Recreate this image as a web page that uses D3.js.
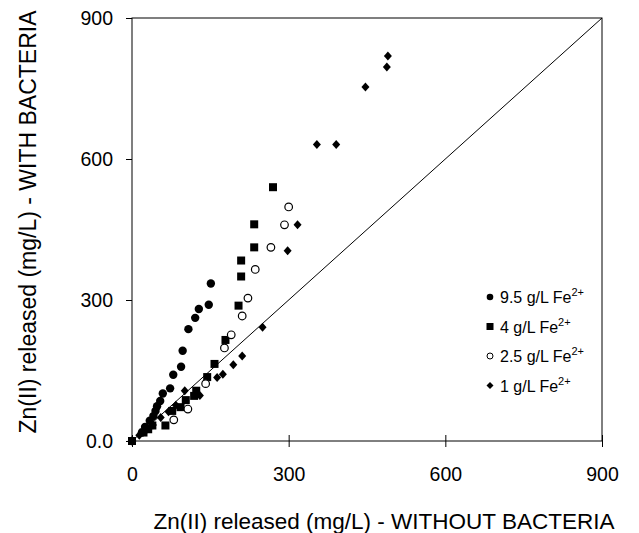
<!DOCTYPE html>
<html>
<head>
<meta charset="utf-8">
<script src="https://cdn.jsdelivr.net/npm/d3@7"></script>
<style>
  body { margin: 0; background: #fff; }
  text { font-family: "Liberation Sans", Arial, sans-serif; fill: #000; }
</style>
</head>
<body>
<div id="viz-container"></div>
<script>
// readings: [without bacteria, with bacteria] in mg/L
let fe95 = [[0,0],[19,18],[25,30],[34,43],[41,53],[45,64],[48,74],[54,85],[59,101],[73,112],
            [79,141],[94,158],[97,192],[108,238],[121,262],[128,281],[147,290],[151,335]];
let fe4 = [[0,0],[22,18],[31,25],[39,33],[64,33],[77,64],[93,72],[103,87],[119,96],[123,107],
           [144,136],[158,164],[179,215],[204,288],[209,350],[209,384],[234,412],[234,461],[270,540]];
let fe25 = [[80,45],[107,68],[141,122],[177,198],[190,226],[211,266],[222,304],[236,365],
            [266,412],[292,460],[300,498]];
let fe1 = [[0,0],[14,12],[26,22],[40,34],[55,50],[70,62],[84,76],[101,107],[130,97],[163,135],
           [174,142],[194,162],[211,181],[250,242],[298,405],[317,460],[354,631],[391,631],
           [447,753],[488,796],[490,819]];

let xTicks = [0, 300, 600, 900];
let yTicks = [0, 300, 600, 900];
let legendLabels = ["9.5 g/L Fe", "4 g/L Fe", "2.5 g/L Fe", "1 g/L Fe"];
let seriesShapes = ["dot", "square", "ring", "diamond"];

let plotLeft = 132, plotRight = 602, plotTop = 18, plotBottom = 441;

let viz = d3.select("#viz-container")
  .append("svg")
    .attr("width", 639)
    .attr("height", 533);

let x = d3.scaleLinear().domain([0, 900]).range([plotLeft, plotRight]);
let y = d3.scaleLinear().domain([0, 900]).range([plotBottom, plotTop]);

// frame
viz.append("rect")
  .attr("x", plotLeft).attr("y", plotTop)
  .attr("width", plotRight - plotLeft).attr("height", plotBottom - plotTop)
  .attr("fill", "none").attr("stroke", "#000").attr("stroke-width", 1);

// x axis, ticks crossing the line
let xAxis = viz.append("g").attr("transform", "translate(0," + plotBottom + ")")
  .call(d3.axisBottom(x).tickValues(xTicks).tickSize(6).tickFormat(d3.format("d")));
xAxis.select(".domain").remove();
xAxis.selectAll(".tick line").attr("y1", -6).attr("stroke", "#000");
xAxis.selectAll(".tick text").attr("y", 26).attr("font-size", 19.5);

// y axis
let yAxis = viz.append("g").attr("transform", "translate(" + plotLeft + ",0)")
  .call(d3.axisLeft(y).tickValues(yTicks).tickSize(6)
        .tickFormat(d => d == 0 ? "0.0" : d3.format("d")(d)));
yAxis.select(".domain").remove();
yAxis.selectAll(".tick line").attr("stroke", "#000");
yAxis.selectAll(".tick text").attr("x", -19).attr("font-size", 19.5);

// 1:1 line
viz.append("line")
  .attr("x1", x(0)).attr("y1", y(0))
  .attr("x2", x(900)).attr("y2", y(900))
  .attr("stroke", "#000").attr("stroke-width", 1);

function drawShape(g, shape, px, py) {
  if (shape == "dot") {
    g.append("circle").attr("cx", px).attr("cy", py).attr("r", 4.2).attr("fill", "#000");
  } else if (shape == "square") {
    g.append("rect").attr("x", px - 4).attr("y", py - 4)
      .attr("width", 8).attr("height", 8).attr("fill", "#000");
  } else if (shape == "ring") {
    g.append("circle").attr("cx", px).attr("cy", py).attr("r", 3.8)
      .attr("fill", "#fff").attr("stroke", "#000").attr("stroke-width", 1.2);
  } else {
    g.append("path")
      .attr("d", "M" + px + "," + (py - 4.5) + "L" + (px + 4) + "," + py +
                 "L" + px + "," + (py + 4.5) + "L" + (px - 4) + "," + py + "Z")
      .attr("fill", "#000");
  }
}

let allSeries = [fe95, fe4, fe25, fe1];
allSeries.forEach(function(series, i) {
  let g = viz.append("g").attr("class", "series-" + i);
  series.forEach(function(d) {
    drawShape(g, seriesShapes[i], x(d[0]), y(d[1]));
  });
});

// legend
let legend = viz.append("g");
legendLabels.forEach(function(label, i) {
  let ly = 297 + i * 29.5;
  let g = legend.append("g");
  if (seriesShapes[i] == "dot") {
    g.append("circle").attr("cx", 490).attr("cy", ly).attr("r", 3.3).attr("fill", "#000");
  } else if (seriesShapes[i] == "square") {
    g.append("rect").attr("x", 486.5).attr("y", ly - 3.5).attr("width", 7).attr("height", 7).attr("fill", "#000");
  } else if (seriesShapes[i] == "ring") {
    g.append("circle").attr("cx", 490).attr("cy", ly).attr("r", 3)
      .attr("fill", "#fff").attr("stroke", "#000");
  } else {
    g.append("path")
      .attr("d", "M490," + (ly - 3.5) + "L493.5," + ly + "L490," + (ly + 3.5) + "L486.5," + ly + "Z")
      .attr("fill", "#000");
  }
  let t = g.append("text").attr("x", 500).attr("y", ly + 6).attr("font-size", 16);
  t.append("tspan").text(label);
  t.append("tspan").attr("dy", -7).attr("font-size", 11).text("2+");
});

// axis titles
viz.append("text")
  .attr("x", 384).attr("y", 529)
  .attr("text-anchor", "middle").attr("font-size", 22.5)
  .text("Zn(II) released (mg/L) - WITHOUT BACTERIA");

viz.append("text")
  .attr("transform", "translate(36,222) rotate(-90)")
  .attr("text-anchor", "middle").attr("font-size", 23)
  .text("Zn(II) released (mg/L) - WITH BACTERIA");
</script>
</body>
</html>
